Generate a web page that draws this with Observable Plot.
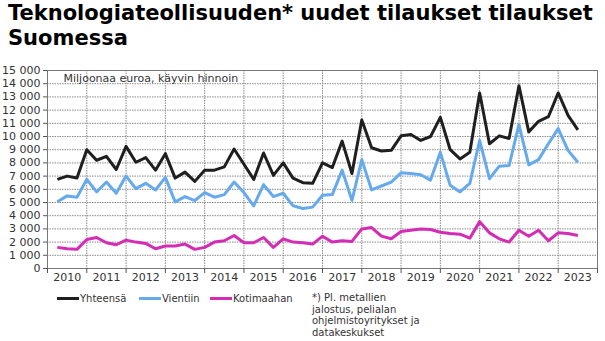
<!DOCTYPE html>
<html>
<head>
<meta charset="utf-8">
<script src="https://cdn.jsdelivr.net/npm/d3@7"></script>
<script src="https://cdn.jsdelivr.net/npm/@observablehq/plot@0.6"></script>
<style>
  html, body { margin: 0; padding: 0; background: #fff; }
  body { width: 605px; height: 341px; position: relative; overflow: hidden; font-family: "DejaVu Sans", Verdana, sans-serif; color: #222; }
  #title { position: absolute; left: 8px; top: 1px; font-weight: bold; font-size: 21px; line-height: 25px; white-space: nowrap; color: #000; }
  #chart { position: absolute; left: 0; top: 58px; }
  #legend { position: absolute; left: 0; top: 292px; width: 310px; height: 14px; font-size: 10px; color: #333; }
  #legend .item { position: absolute; top: 0; display: flex; align-items: center; height: 13px; white-space: nowrap; }
  #legend .sw { display: inline-block; width: 22px; height: 3px; margin-right: 1px; }
  #note { position: absolute; left: 312px; top: 292px; font-size: 10px; line-height: 11.7px; color: #333; }
</style>
</head>
<body>
<div id="title">Teknologiateollisuuden* uudet tilaukset tilaukset<br>Suomessa</div>
<div id="chart"></div>
<div id="legend"></div>
<div id="note">*) Pl. metallien<br>jalostus, pelialan<br>ohjelmistoyritykset ja<br>datakeskukset</div>
<script>
// Years shown on the axis
const years = [2010, 2011, 2012, 2013, 2014, 2015, 2016, 2017, 2018, 2019, 2020, 2021, 2022, 2023];
const seriesNames = ["Yhteensä", "Vientiin", "Kotimaahan"];
const seriesColors = ["#1f1f1f", "#66aaee", "#d42cb4"];
const unitLabel = "Miljoonaa euroa, käyvin hinnoin";

// Quarterly values, 2010Q1 ... 2023Q2 (million euros)
const yhteensa = [
  6750, 7000, 6850, 9000,
  8200, 8500, 7500, 9250,
  8050, 8400, 7450, 8700,
  6850, 7300, 6600, 7450,
  7450, 7700, 9050, 7900,
  6750, 8750, 7050, 8000,
  6850, 6500, 6450, 8000,
  7650, 9650, 7200, 11250,
  9150, 8900, 8950, 10050,
  10150, 9700, 10000, 11450,
  9000, 8300, 8800, 13300,
  9450, 10050, 9850, 13850,
  10350, 11150, 11500, 13300,
  11600, 10500
];
const vientiin = [
  5050, 5500, 5400, 6750,
  5800, 6550, 5700, 7000,
  6050, 6450, 5950, 6900,
  5050, 5450, 5150, 5750,
  5400, 5600, 6550, 5750,
  4750, 6350, 5450, 5700,
  4750, 4550, 4650, 5550,
  5600, 7450, 5150, 8250,
  5950, 6250, 6550, 7250,
  7200, 7100, 6700, 8800,
  6300, 5800, 6450, 9700,
  6800, 7750, 7800, 10900,
  7850, 8250, 9450, 10600,
  8950, 8050
];
const kotimaahan = [
  1600, 1500, 1450, 2200,
  2350, 1950, 1800, 2150,
  2000, 1900, 1500, 1700,
  1700, 1850, 1450, 1600,
  2000, 2100, 2500, 1950,
  1950, 2350, 1600, 2250,
  2000, 1950, 1850, 2450,
  2000, 2100, 2050, 3000,
  3100, 2450, 2250, 2800,
  2900, 3000, 2950, 2750,
  2650, 2600, 2300, 3550,
  2700, 2250, 2000, 2900,
  2450, 2900, 2100, 2700,
  2650, 2500
];

// Build a long table: x position = end of quarter (year + q/4)
const valuesBySeries = [yhteensa, vientiin, kotimaahan];
const rows = [];
valuesBySeries.forEach((vals, s) => {
  vals.forEach((v, i) => {
    const year = years[0] + Math.floor(i / 4);
    const q = (i % 4) + 1;
    rows.push({series: seriesNames[s], t: year + q / 4, value: v});
  });
});

const boundaries = years.concat([years[years.length - 1] + 1]);
const yTicks = d3.range(0, 15001, 1000);
const fmt = d => d3.format(",")(d).replace(/,/g, " ");

const chart = Plot.plot({
  width: 605,
  height: 232,
  marginLeft: 47,
  marginRight: 8,
  marginTop: 12,
  marginBottom: 22,
  style: {fontFamily: "DejaVu Sans, Verdana, sans-serif", fontSize: "11px", color: "#333", background: "#fff"},
  x: {domain: [years[0], years[years.length - 1] + 1]},
  y: {domain: [0, 15000]},
  color: {domain: seriesNames, range: seriesColors},
  marks: [
    Plot.gridY(yTicks, {stroke: "#8a8a8a", strokeOpacity: 1, strokeDasharray: "1.5,1"}),
    Plot.gridX(boundaries, {stroke: "#8a8a8a", strokeOpacity: 1, strokeDasharray: "1.5,1"}),
    Plot.frame({stroke: "#777", strokeWidth: 1}),
    Plot.axisY(yTicks, {tickFormat: fmt, tickSize: 4, tickPadding: 3, fontSize: 11, stroke: "#555", fill: "#333", label: null}),
    Plot.axisX(boundaries, {tickFormat: () => "", tickSize: 5, stroke: "#555", label: null}),
    Plot.axisX(years.map(y => y + 0.5), {tickFormat: d => String(Math.floor(d)), tickSize: 0, tickPadding: 5, fontSize: 11, fill: "#333", label: null}),
    Plot.text([unitLabel], {frameAnchor: "top-left", dx: 16, dy: 4, lineAnchor: "top", textAnchor: "start", fontSize: 11, fill: "#333"}),
    Plot.line(rows, {x: "t", y: "value", z: "series", stroke: "series", strokeWidth: 3, strokeLinejoin: "round", strokeLinecap: "butt"})
  ]
});
document.getElementById("chart").appendChild(chart);

// Legend (HTML, below the SVG)
const legendLeft = [57, 139, 210];
const legend = document.getElementById("legend");
seriesNames.forEach((name, i) => {
  const item = document.createElement("span");
  item.className = "item";
  item.style.left = legendLeft[i] + "px";
  const sw = document.createElement("span");
  sw.className = "sw";
  sw.style.background = seriesColors[i];
  item.appendChild(sw);
  item.appendChild(document.createTextNode(name));
  legend.appendChild(item);
});
</script>
</body>
</html>
